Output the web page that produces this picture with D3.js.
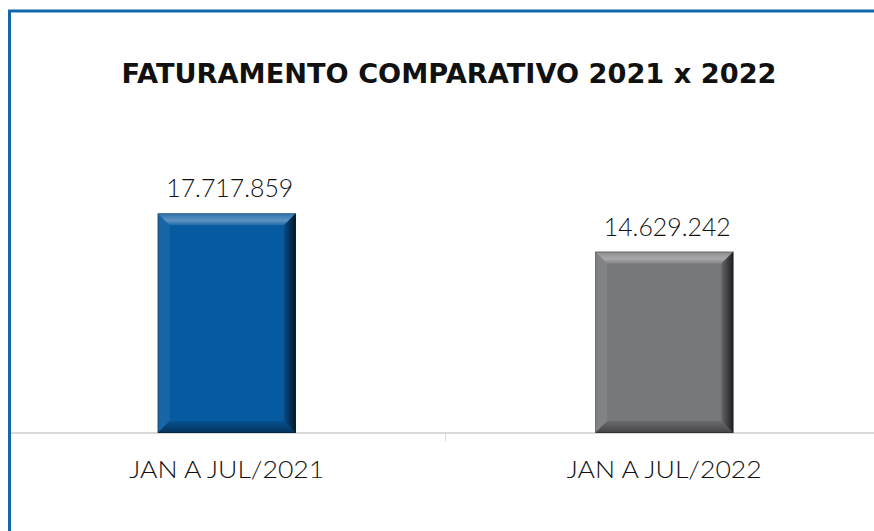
<!DOCTYPE html>
<html>
<head>
<meta charset="utf-8">
<script src="https://cdn.jsdelivr.net/npm/d3@7"></script>
<style>
  body { margin: 0; background: #fff; }
  svg { display: block; font-family: "Lato", "Open Sans", sans-serif; }
</style>
</head>
<body>
<svg id="drawing_region"></svg>
<script>
const categories = ['JAN A JUL/2021', 'JAN A JUL/2022'];
const values = [17717859, 14629242];
const valueLabels = ['17.717.859', '14.629.242'];
const barColors = ['#065a9f', '#77787b'];

const width = 874, height = 531;
const margin = {top: 185, right: -9, bottom: 98, left: 8};

const svg = d3.select('#drawing_region')
    .attr('width', width)
    .attr('height', height);

// frame (clipped on right/bottom)
svg.append('rect')
    .attr('x', 9.5).attr('y', 11)
    .attr('width', 1000).attr('height', 700)
    .attr('fill', 'none')
    .attr('stroke', '#1467ab')
    .attr('stroke-width', 3);

svg.append('text')
    .attr('x', 449).attr('y', 83)
    .attr('text-anchor', 'middle')
    .attr('font-family', '"DejaVu Sans", sans-serif')
    .attr('font-size', 26)
    .attr('font-weight', 'bold')
    .attr('fill', '#111')
    .attr('textLength', 655)
    .attr('lengthAdjust', 'spacingAndGlyphs')
    .text('FATURAMENTO COMPARATIVO 2021 x 2022');

const inner_width = width - margin.left - margin.right;
const inner_height = height - margin.top - margin.bottom;

const chart = svg.append('g')
    .attr('transform', `translate(${margin.left}, ${margin.top})`);

const xscale = d3.scaleBand()
    .domain(categories)
    .range([0, inner_width])
    .paddingInner(0.684)
    .paddingOuter(0.342);

const yscale = d3.scaleLinear()
    .domain([0, 20000000])
    .range([inner_height, 0]);

// gradients for the bevel sides
const defs = svg.append('defs');
const rightGrad = defs.append('linearGradient').attr('id', 'rightShade')
    .attr('x1', 0).attr('x2', 1).attr('y1', 0).attr('y2', 0);
rightGrad.append('stop').attr('offset', '0%').attr('stop-color', '#000').attr('stop-opacity', 0.15);
rightGrad.append('stop').attr('offset', '100%').attr('stop-color', '#000').attr('stop-opacity', 0.75);
const topGrad = defs.append('linearGradient').attr('id', 'topShade')
    .attr('x1', 0).attr('x2', 0).attr('y1', 0).attr('y2', 1);
topGrad.append('stop').attr('offset', '0%').attr('stop-color', '#fff').attr('stop-opacity', 0.15);
topGrad.append('stop').attr('offset', '60%').attr('stop-color', '#fff').attr('stop-opacity', 0.35);
topGrad.append('stop').attr('offset', '100%').attr('stop-color', '#fff').attr('stop-opacity', 0.1);
const botGrad = defs.append('linearGradient').attr('id', 'botShade')
    .attr('x1', 0).attr('x2', 0).attr('y1', 0).attr('y2', 1);
botGrad.append('stop').attr('offset', '0%').attr('stop-color', '#000').attr('stop-opacity', 0.1);
botGrad.append('stop').attr('offset', '100%').attr('stop-color', '#000').attr('stop-opacity', 0.45);

// axis
const xaxis = d3.axisBottom(xscale).tickSize(0).tickFormat('');
const xaxis_group = chart.append('g')
    .attr('transform', `translate(0, ${inner_height})`)
    .call(xaxis);
xaxis_group.select('.domain').attr('stroke', '#d9d9d9').attr('stroke-width', 2)
    .attr('d', `M3,0H${inner_width}`);
// boundary tick between categories
const mid = (xscale(categories[0]) + xscale.bandwidth() + xscale(categories[1])) / 2;
xaxis_group.append('line')
    .attr('x1', mid).attr('x2', mid).attr('y1', 0).attr('y2', 8)
    .attr('stroke', '#d9d9d9').attr('stroke-width', 1);

const bars = chart.selectAll('.bar')
    .data(values)
    .join('g')
    .attr('class', 'bar');

const b = 12;
bars.each(function(d, i) {
    const g = d3.select(this);
    const x0 = xscale(categories[i]);
    const w = xscale.bandwidth();
    const y0 = yscale(d);
    const h = yscale(0) - y0;
    const x1 = x0 + w, y1 = y0 + h;
    g.append('rect')
        .attr('x', x0).attr('y', y0).attr('width', w).attr('height', h)
        .attr('fill', barColors[i]);
    // top bevel
    g.append('path')
        .attr('d', `M${x0},${y0}L${x1},${y0}L${x1 - b},${y0 + b}L${x0 + b},${y0 + b}Z`)
        .attr('fill', 'url(#topShade)');
    // left bevel
    g.append('path')
        .attr('d', `M${x0},${y0}L${x0 + b},${y0 + b}L${x0 + b},${y1 - b}L${x0},${y1}Z`)
        .attr('fill', '#fff').attr('fill-opacity', 0.08);
    // right bevel
    g.append('path')
        .attr('d', `M${x1},${y0}L${x1},${y1}L${x1 - b},${y1 - b}L${x1 - b},${y0 + b}Z`)
        .attr('fill', 'url(#rightShade)');
    // bottom bevel
    g.append('path')
        .attr('d', `M${x0},${y1}L${x0 + b},${y1 - b}L${x1 - b},${y1 - b}L${x1},${y1}Z`)
        .attr('fill', 'url(#botShade)');
    g.append('rect')
        .attr('x', x0 + 0.5).attr('y', y0 + 0.5).attr('width', w - 1).attr('height', h - 1)
        .attr('fill', 'none').attr('stroke', '#000').attr('stroke-opacity', 0.25);
});

// value labels
chart.selectAll('.vlabel')
    .data(values)
    .join('text')
    .attr('class', 'vlabel')
    .attr('x', (d, i) => xscale(categories[i]) + xscale.bandwidth() / 2 + 3)
    .attr('y', d => yscale(d) - 16)
    .attr('text-anchor', 'middle')
    .attr('font-size', 25)
    .attr('font-weight', 300)
    .attr('fill', '#111')
    .attr('textLength', 127)
    .attr('lengthAdjust', 'spacingAndGlyphs')
    .text((d, i) => valueLabels[i]);

// category labels
chart.selectAll('.clabel')
    .data(categories)
    .join('text')
    .attr('class', 'clabel')
    .attr('x', d => xscale(d) + xscale.bandwidth() / 2)
    .attr('y', inner_height + 45)
    .attr('text-anchor', 'middle')
    .attr('font-size', 24)
    .attr('font-weight', 300)
    .attr('fill', '#111')
    .attr('textLength', 195)
    .attr('lengthAdjust', 'spacingAndGlyphs')
    .text(d => d);
</script>
</body>
</html>
